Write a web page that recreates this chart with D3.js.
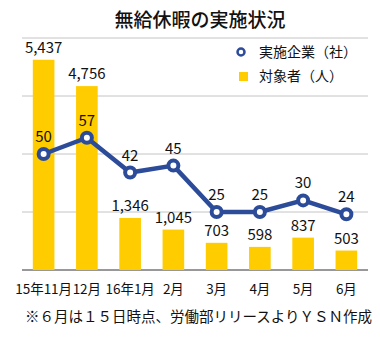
<!DOCTYPE html>
<html><head><meta charset="utf-8">
<script src="https://cdn.jsdelivr.net/npm/d3@7"></script>
<style>body{margin:0;background:#fff}svg{display:block}text{font-family:"Noto Sans CJK JP","Noto Sans",sans-serif;fill:#111}</style>
</head><body><svg id="c" width="380" height="339"></svg>
<script>
const categories = ["15年11月","12月","16年1月","2月","3月","4月","5月","6月"];
const companies = [50,57,42,45,25,25,30,24];
const persons = [5437,4756,1346,1045,703,598,837,503];
const barTicks = [0,1500,3000,4500,6000];
const title = "無給休暇の実施状況";
const legendLabels = ["実施企業（社）","対象者（人）"];
const note = "※６月は１５日時点、労働部リリースよりＹＳＮ作成";

const blue = "#2c4c9a", gold = "#ffcc00";
const svg = d3.select("#c");
const L = 22, R = 368, T = 38, B = 270;
const x = d3.scaleBand().domain(categories).range([L, R]).padding(0.5).paddingOuter(0.25);
const yb = d3.scaleLinear().domain([0, 6000]).range([B, T]);
const yl = d3.scaleLinear().domain([0, 100]).range([B, T]);

svg.append("text").attr("x", 200).attr("y", 27).attr("text-anchor", "middle")
  .attr("font-size", 19).attr("font-weight", 500).text(title);

// grid
svg.append("g").selectAll("line").data(barTicks).join("line")
  .attr("x1", L).attr("x2", R).attr("y1", d => yb(d)).attr("y2", d => yb(d))
  .attr("stroke", d => d === 0 ? "#333" : "#c4c4c4").attr("stroke-width", 1);

// bars
svg.append("g").selectAll("rect").data(persons).join("rect")
  .attr("x", (d, i) => x(categories[i])).attr("width", x.bandwidth())
  .attr("y", d => yb(d)).attr("height", d => B - yb(d)).attr("fill", gold);

svg.append("g").selectAll("text").data(persons).join("text")
  .attr("x", (d, i) => x(categories[i]) + x.bandwidth() / 2)
  .attr("y", d => yb(d) - 7).attr("text-anchor", "middle").attr("font-size", 15)
  .text(d => d3.format(",")(d));

// line
const cx = (d, i) => x(categories[i]) + x.bandwidth() / 2;
svg.append("path").datum(companies)
  .attr("d", d3.line().x(cx).y(d => yl(d)))
  .attr("fill", "none").attr("stroke", blue).attr("stroke-width", 4.5);
svg.append("g").selectAll("circle").data(companies).join("circle")
  .attr("cx", cx).attr("cy", d => yl(d)).attr("r", 5)
  .attr("fill", "#fff").attr("stroke", blue).attr("stroke-width", 4);
svg.append("g").selectAll("text").data(companies).join("text")
  .attr("x", cx).attr("y", d => yl(d) - 12).attr("text-anchor", "middle").attr("font-size", 15)
  .text(d => d);

// x axis labels
const xa = d3.axisBottom(x).tickSize(0).tickPadding(0);
const gx = svg.append("g").attr("transform", `translate(0,${B})`).call(xa);
gx.select(".domain").remove();
gx.selectAll("text").attr("y", 24).attr("dy", 0).attr("font-size", 13.5)
  .style("font-family", '"Noto Sans CJK JP",sans-serif').attr("fill", "#111");

// legend
svg.append("circle").attr("cx", 241).attr("cy", 52).attr("r", 3.5)
  .attr("fill", "#fff").attr("stroke", blue).attr("stroke-width", 2.5);
svg.append("rect").attr("x", 239).attr("y", 72).attr("width", 9).attr("height", 9).attr("fill", gold);
svg.append("text").attr("x", 259).attr("y", 57).attr("font-size", 14).text(legendLabels[0]);
svg.append("text").attr("x", 259).attr("y", 81).attr("font-size", 14).text(legendLabels[1]);

svg.append("text").attr("x", 25).attr("y", 322).attr("font-size", 14.5).text(note);
</script></body></html>
